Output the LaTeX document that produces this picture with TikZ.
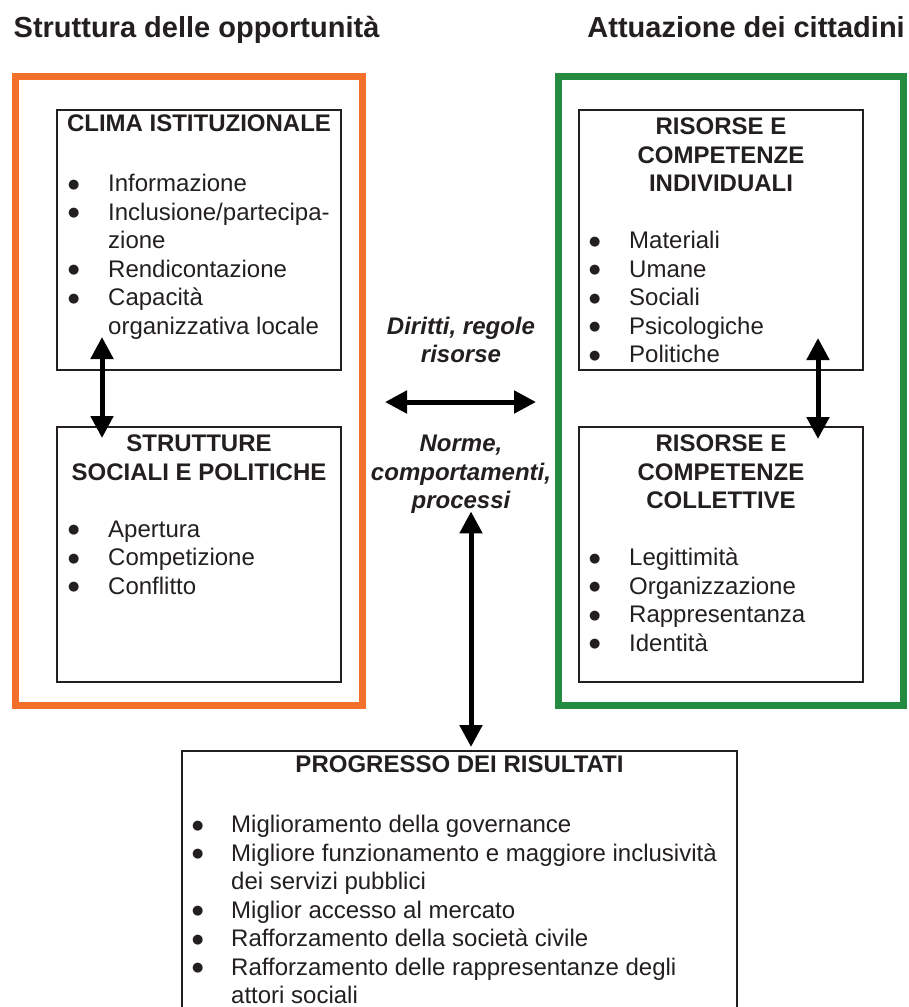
\documentclass[tikz,border=0pt]{standalone}
\usepackage{fontspec}
\setmainfont{Liberation Sans}
\newfontfamily\bltfont{DejaVu Sans}
\usetikzlibrary{arrows.meta,positioning}
\definecolor{frameorange}{RGB}{242,112,42}
\definecolor{framegreen}{RGB}{36,139,64}
\definecolor{ink}{RGB}{35,31,32}
\newcommand{\boxfont}{\fontsize{24}{28.5}\selectfont}
\newcommand{\blt}{\raisebox{3.5pt}{\bltfont\fontsize{13}{13}\selectfont ●}}
\tikzset{
  frame/.style={draw, line width=7pt, inner sep=0pt, outer sep=0pt, anchor=north west},
  box/.style={draw=ink, line width=2pt, inner sep=0pt, outer sep=0pt, anchor=north west},
  boxtitle/.style={font=\boxfont\bfseries, text=ink, inner sep=0pt, anchor=north},
  boxlist/.style={font=\boxfont, text=ink, inner sep=0pt, anchor=north west},
  midtext/.style={font=\boxfont\bfseries\itshape, text=ink, inner sep=0pt, anchor=north},
  heading/.style={font=\fontsize{29}{34}\selectfont\bfseries, text=ink, inner sep=0pt},
  dblarrow/.style={line width=5pt, draw=black, {Triangle[width=22pt,length=22pt]}-{Triangle[width=22pt,length=22pt]}}
}
\begin{document}
\begin{tikzpicture}[x=1pt, y=-1pt]
  \useasboundingbox (0,0) rectangle (908,1007);
  \clip (0,0) rectangle (908,1007);
  % headings
  \node[heading, anchor=base west] (hopp) at (13.5,37) {Struttura delle opportunità};
  \node[heading, anchor=base east] (hcit) at (905,37) {Attuazione dei cittadini};
  % frames
  \node[frame, draw=frameorange, minimum width=347pt, minimum height=629.5pt] (frameL) at (15.5,76) {};
  \node[frame, draw=framegreen, minimum width=345.5pt, minimum height=629.5pt] (frameR) at (558,76) {};
  % boxes
  \node[box, minimum width=284pt, minimum height=260pt] (clima) at (57,110) {};
  \node[box, minimum width=284pt, minimum height=255pt] (strutture) at (57,427) {};
  \node[box, minimum width=284pt, minimum height=260pt] (indiv) at (579,110) {};
  \node[box, minimum width=284pt, minimum height=255pt] (collet) at (579,427) {};
  \node[box, minimum width=555pt, minimum height=280pt] (progresso) at (182,751) {};
  % titles
  \node[boxtitle, below=4.55pt of clima.north] (climaT) {CLIMA ISTITUZIONALE};
  \node[boxtitle, below=4.55pt of strutture.north] (struttureT)
    {\begin{tabular}{@{}c@{}}STRUTTURE\\SOCIALI E POLITICHE\end{tabular}};
  \node[boxtitle, below=4.55pt of indiv.north] (indivT)
    {\begin{tabular}{@{}c@{}}RISORSE E\\COMPETENZE\\INDIVIDUALI\end{tabular}};
  \node[boxtitle, below=4.55pt of collet.north] (colletT)
    {\begin{tabular}{@{}c@{}}RISORSE E\\COMPETENZE\\COLLETTIVE\end{tabular}};
  \node[boxtitle, below=4.55pt of progresso.north] (progressoT) {PROGRESSO DEI RISULTATI};
  % lists
  \node[boxlist] (climaL) at ([xshift=11pt,yshift=-61.55pt]clima.north west)
    {\begin{tabular}{@{}p{40pt}@{}l@{}}
      \blt & Informazione\\
      \blt & Inclusione/partecipa-\\
           & zione\\
      \blt & Rendicontazione\\
      \blt & Capacità\\
           & organizzativa locale
    \end{tabular}};
  \node[boxlist] (struttureL) at ([xshift=11pt,yshift=-90.05pt]strutture.north west)
    {\begin{tabular}{@{}p{40pt}@{}l@{}}
      \blt & Apertura\\
      \blt & Competizione\\
      \blt & Conflitto
    \end{tabular}};
  \node[boxlist] (indivL) at ([xshift=10pt,yshift=-118.55pt]indiv.north west)
    {\begin{tabular}{@{}p{40pt}@{}l@{}}
      \blt & Materiali\\
      \blt & Umane\\
      \blt & Sociali\\
      \blt & Psicologiche\\
      \blt & Politiche
    \end{tabular}};
  \node[boxlist] (colletL) at ([xshift=10pt,yshift=-118.55pt]collet.north west)
    {\begin{tabular}{@{}p{40pt}@{}l@{}}
      \blt & Legittimità\\
      \blt & Organizzazione\\
      \blt & Rappresentanza\\
      \blt & Identità
    \end{tabular}};
  \node[boxlist] (progressoL) at ([xshift=10pt,yshift=-61.55pt]progresso.north west)
    {\begin{tabular}{@{}p{39pt}@{}l@{}}
      \blt & Miglioramento della governance\\
      \blt & Migliore funzionamento e maggiore inclusività\\
           & dei servizi pubblici\\
      \blt & Miglior accesso al mercato\\
      \blt & Rafforzamento della società civile\\
      \blt & Rafforzamento delle rappresentanze degli\\
           & attori sociali
    \end{tabular}};
  % middle texts
  \node[midtext] (diritti) at (461,314.05)
    {\begin{tabular}{@{}c@{}}Diritti, regole\\risorse\end{tabular}};
  \node[midtext] (norme) at (461,431.55)
    {\begin{tabular}{@{}c@{}}Norme,\\comportamenti,\\processi\end{tabular}};
  % arrows
  \draw[dblarrow] ([xshift=45pt,yshift=33pt]clima.south west) -- ([xshift=45pt,yshift=-11pt]strutture.north west);
  \draw[dblarrow] ([xshift=239pt,yshift=32pt]indiv.south west) -- ([xshift=239pt,yshift=-12pt]collet.north west);
  \draw[dblarrow] ([xshift=22.5pt,yshift=-11.25pt]frameL.east) -- ([xshift=-22pt,yshift=-11.25pt]frameR.west);
  \draw[dblarrow] ([xshift=10pt,yshift=6pt]norme.south) -- ([xshift=11.5pt,yshift=4pt]progresso.north);
\end{tikzpicture}
\end{document}
